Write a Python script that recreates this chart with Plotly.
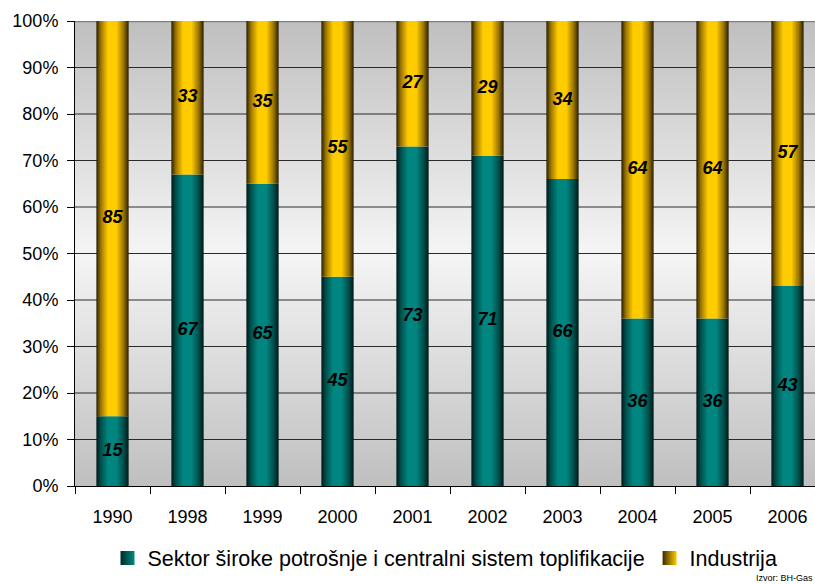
import plotly.graph_objects as go

# Data: share of natural gas consumption by sector (%)
years = ["1990", "1998", "1999", "2000", "2001", "2002", "2003", "2004", "2005", "2006"]
households = [15, 67, 65, 45, 73, 71, 66, 36, 36, 43]
industry = [85, 33, 35, 55, 27, 29, 34, 64, 64, 57]
series_names = ["Sektor široke potrošnje i centralni sistem toplifikacije", "Industrija"]
y_ticks = [0, 10, 20, 30, 40, 50, 60, 70, 80, 90, 100]
source_note = "Izvor: BH-Gas"

FONT = "Liberation Sans, Arial, sans-serif"
BAR_W = 0.43
X_MIN = -0.5
X_MAX = -0.5 + 740 / 75  # last column runs past the right edge

teal_scale = [[0, "#001818"], [0.14, "#00504c"], [0.36, "#008580"], [0.62, "#008580"],
              [0.84, "#004f4b"], [1, "#001818"]]
gold_scale = [[0, "#2a1f00"], [0.14, "#9c7600"], [0.36, "#ffcc00"], [0.62, "#ffcc00"],
              [0.84, "#9c7600"], [1, "#2a1f00"]]

fig = go.Figure()

# plot-area background: grey at top and bottom, near white in the middle
fig.add_trace(go.Scatter(
    x=[X_MIN, 9.5, 9.5, X_MIN, X_MIN], y=[0, 0, 100, 100, 0],
    mode="none", fill="toself",
    fillgradient=dict(type="vertical",
                      colorscale=[[0, "#bfbfbf"], [0.5, "#f5f5f5"], [1, "#bfbfbf"]]),
    hoverinfo="skip", showlegend=False))

# horizontal gridlines
gx, gy = [], []
for t in y_ticks[1:-1]:
    gx += [X_MIN, 9.5, None]
    gy += [t, t, None]
fig.add_trace(go.Scatter(x=gx, y=gy, mode="lines",
                         line=dict(color="#2a2a2a", width=1.2),
                         hoverinfo="skip", showlegend=False))
fig.add_trace(go.Scatter(x=[X_MIN, 9.5], y=[100, 100], mode="lines",
                         line=dict(color="#808080", width=2.5),
                         hoverinfo="skip", showlegend=False))


def bar_segment(i, base, top, scale):
    x0, x1 = i - BAR_W / 2, i + BAR_W / 2
    return go.Scatter(
        x=[x0, x1, x1, x0, x0], y=[base, base, top, top, base],
        mode="none", fill="toself",
        fillgradient=dict(type="horizontal", colorscale=scale),
        hoverinfo="skip", showlegend=False)


lbl_x, lbl_y, lbl_t = [], [], []
for i, (h, ind) in enumerate(zip(households, industry)):
    fig.add_trace(bar_segment(i, 0, h, teal_scale))
    fig.add_trace(bar_segment(i, h, h + ind, gold_scale))
    lbl_x += [i, i]
    lbl_y += [h / 2, h + ind / 2]
    lbl_t += [str(h), str(ind)]

fig.add_trace(go.Scatter(
    x=lbl_x, y=lbl_y, text=lbl_t, mode="text",
    textfont=dict(family=FONT, size=18, color="black", weight="bold", style="italic"),
    hoverinfo="skip", showlegend=False))

# legend entries: square swatches shaded dark (left) to bright (right)
for name, c, bright in [(series_names[0], "#002a28", "#008a84"),
                        (series_names[1], "#3a2c00", "#ffcc00")]:
    fig.add_trace(go.Scatter(
        x=[None], y=[None], mode="markers", name=name,
        marker=dict(symbol="square", size=14, color=c,
                    gradient=dict(type="horizontal", color=bright))))

fig.add_annotation(text=source_note, xref="paper", yref="paper", x=1.0, y=-0.198,
                   xanchor="right", yanchor="middle", showarrow=False,
                   font=dict(family=FONT, size=9, color="black"))

fig.update_layout(
    width=815, height=584,
    margin=dict(l=75, r=0, t=21, b=98),
    paper_bgcolor="white", plot_bgcolor="rgba(0,0,0,0)",
    font=dict(family=FONT, size=18, color="black"),
    showlegend=True,
    legend=dict(orientation="h", x=0.5, xanchor="center", y=-0.155, yanchor="middle",
                font=dict(family=FONT, size=21.5, color="black"),
                bgcolor="rgba(0,0,0,0)", itemwidth=30),
    xaxis=dict(range=[X_MIN, X_MAX], tickmode="array",
               tickvals=list(range(len(years))), ticktext=years,
               ticks="outside", ticklen=14, tickcolor="rgba(0,0,0,0)",
               showgrid=False, zeroline=False, showline=True,
               linecolor="black", linewidth=1,
               minor=dict(tickmode="array",
                          tickvals=[k - 0.5 for k in range(len(years) + 1)],
                          ticks="outside", ticklen=7, tickcolor="black", showgrid=False),
               fixedrange=True),
    yaxis=dict(range=[0, 100], tickmode="array", tickvals=y_ticks,
               ticktext=[f"{t}%" for t in y_ticks],
               ticks="outside", ticklen=7, tickcolor="black", ticklabelstandoff=5,
               showgrid=False, zeroline=False, showline=True,
               linecolor="black", linewidth=1, fixedrange=True),
)

fig.write_html("out.html")
